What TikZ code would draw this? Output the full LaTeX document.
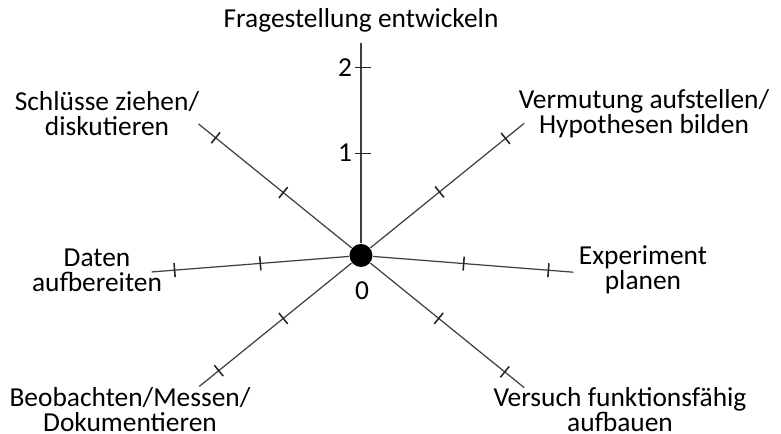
\documentclass[tikz,border=0pt]{standalone}
\usepackage{fontspec}
\setmainfont{Carlito}
\usepackage{tikz}

\begin{document}
\begin{tikzpicture}[x=1cm,y=1cm,every node/.style={font=\fontsize{7.8}{7.1}\selectfont,align=center}]
%[line width=0.4pt]
\tikzset{axis/.style={draw=black!75,line width=0.35pt},
         tick/.style={draw=black!85,line width=0.45pt}}
\useasboundingbox (-3.61,-1.785) rectangle (4.20,2.555);

\path (0,0) node (o) [shape=circle,fill=black,inner sep=0pt,minimum size=0.23cm] {};

% axis ends
\path (90:2.12) coordinate (frage);
\path (39:2.10) coordinate (verm);
\path (-4.5:2.13) coordinate (exp);
\path (-39:2.10) coordinate (vers);
\path (219:2.08) coordinate (beob);
\path (184.5:2.10) coordinate (daten);
\path (141:2.09) coordinate (schl);

\draw [axis] (o) to (frage);
\draw [axis] (o) to (verm);
\draw [axis] (o) to (exp);
\draw [axis] (o) to (vers);
\draw [axis] (o) to (beob);
\draw [axis] (o) to (daten);
\draw [axis] (o) to (schl);

% ticks
\draw [tick] (90:1.02) ++(-0.06,0) -- ++(0.16,0);
\draw [tick] (90:1.88) ++(-0.06,0) -- ++(0.16,0);
\draw [tick] (39:1.01) ++(129:0.07) -- ++(309:0.14);
\draw [tick] (39:1.86) ++(129:0.07) -- ++(309:0.14);
\draw [tick] (-4.5:1.03) ++(85.5:0.07) -- ++(265.5:0.14);
\draw [tick] (-4.5:1.88) ++(85.5:0.07) -- ++(265.5:0.14);
\draw [tick] (-39:1.00) ++(51:0.07) -- ++(231:0.14);
\draw [tick] (-39:1.85) ++(51:0.07) -- ++(231:0.14);
\draw [tick] (219:1.00) ++(129:0.07) -- ++(309:0.14);
\draw [tick] (219:1.83) ++(129:0.07) -- ++(309:0.14);
\draw [tick] (184.5:1.01) ++(94.5:0.07) -- ++(274.5:0.14);
\draw [tick] (184.5:1.87) ++(94.5:0.07) -- ++(274.5:0.14);
\draw [tick] (141:1.00) ++(51:0.07) -- ++(231:0.14);
\draw [tick] (141:1.87) ++(51:0.07) -- ++(231:0.14);

% scale numbers
\path (0.01,-0.355) node (n0) {0};
\path (-0.16,1.025) node (n1) {1};
\path (-0.16,1.875) node (n2) {2};

% labels
\path (0,2.355) node (lfrage) {Fragestellung entwickeln};
\path (2.83,1.42) node (lverm) {Vermutung aufstellen/\\Hypothesen bilden};
\path (2.82,-0.14) node (lexp) {Experiment\\planen};
\path (2.59,-1.54) node (lvers) {Versuch funktionsfähig\\aufbauen};
\path (-2.31,-1.54) node (lbeob) {Beobachten/Messen/\\Dokumentieren};
\path (-2.64,-0.15) node (ldaten) {Daten\\aufbereiten};
\path (-2.54,1.42) node (lschl) {Schlüsse ziehen/\\diskutieren};

\end{tikzpicture}
\end{document}
